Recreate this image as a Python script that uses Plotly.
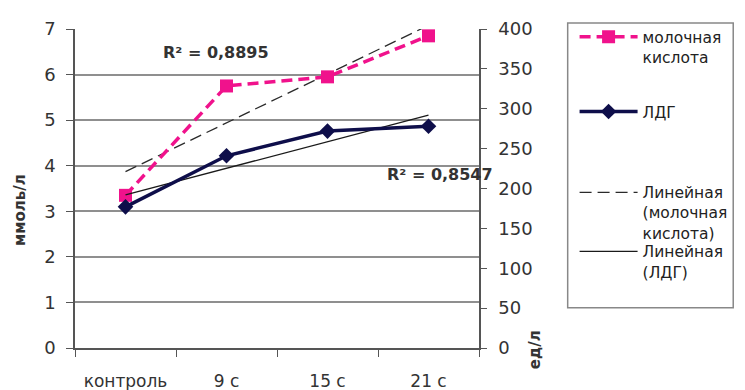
import numpy as np
import plotly.graph_objects as go

categories = ["контроль", "9 с", "15 с", "21 с"]
lactic = [3.35, 5.75, 5.95, 6.85]      # ммоль/л (left axis)
ldh = [177, 241, 272, 278]             # ед/л (right axis)
r2_lactic = "R² = 0,8895"
r2_ldh = "R² = 0,8547"
left_ticks = [0, 1, 2, 3, 4, 5, 6, 7]
right_ticks = [0, 50, 100, 150, 200, 250, 300, 350, 400]

idx = np.arange(len(categories))
k1, b1 = np.polyfit(idx, lactic, 1)
k2, b2 = np.polyfit(idx, ldh, 1)
trend_lactic = list(k1 * idx + b1)
trend_ldh = list(k2 * idx + b2)

FONT = "DejaVu Sans"
PINK = "#F0128C"
NAVY = "#0E0E4A"

# page body has an 8px margin -> figure is drawn 8px right/down; size compensates
OFF = 8
W, H = 745 - OFF, 390 - OFF

fig = go.Figure()
fig.add_trace(go.Scatter(
    x=categories, y=trend_lactic, mode="lines", name="Линейная<br>(молочная<br>кислота)",
    line=dict(color="#2a2a2a", width=1.3, dash="12px,6px"), legend="legend3"))
fig.add_trace(go.Scatter(
    x=categories, y=trend_ldh, mode="lines", name="Линейная<br>(ЛДГ)", yaxis="y2",
    line=dict(color="#1a1a1a", width=1.3), legend="legend4"))
fig.add_trace(go.Scatter(
    x=categories, y=lactic, mode="lines+markers", name="молочная<br>кислота",
    line=dict(color=PINK, width=3.5, dash="11px,6px"),
    marker=dict(symbol="square", size=13, color=PINK), legend="legend"))
fig.add_trace(go.Scatter(
    x=categories, y=ldh, mode="lines+markers", name="ЛДГ", yaxis="y2",
    line=dict(color=NAVY, width=3.5),
    marker=dict(symbol="diamond", size=12, color=NAVY), legend="legend2"))

# conversions from absolute page pixels to paper coords (plot area 75..485 x 24..348)
def px2x(px):
    return (px - 75) / 410.0

def px2y(py):
    return (348 - py) / 324.0

leg_common = dict(bgcolor="rgba(0,0,0,0)", borderwidth=0, font=dict(family=FONT, size=15.5, color="#222"),
                  xanchor="left", yanchor="top", itemwidth=58, valign="top", tracegroupgap=0)

fig.update_layout(
    width=W, height=H,
    margin=dict(l=75 - OFF, r=W - (485 - OFF), t=24 - OFF, b=H - (348 - OFF)),
    paper_bgcolor="white", plot_bgcolor="white",
    font=dict(family=FONT, size=18, color="#333"),
    xaxis=dict(type="category", tickson="boundaries", ticks="outside", ticklen=7, tickwidth=1.3,
               tickcolor="#555", showline=True, linecolor="#555", linewidth=1.5, showgrid=False,
               ticklabelstandoff=17, tickfont=dict(size=17, color="#333"), range=[-0.5, 3.5],
               automargin=False),
    xaxis2=dict(overlaying="x", range=[-0.5, 3.5], tickvals=[-0.5, 0.5, 1.5, 2.5, 3.5],
                ticks="inside", ticklen=6, tickwidth=1.3, tickcolor="#555", showticklabels=False,
                showgrid=False, showline=False, zeroline=False, automargin=False),
    yaxis=dict(range=[0, 7], tickvals=left_ticks, ticks="outside", ticklen=7, tickwidth=1.3, tickcolor="#555",
               showline=True, linecolor="#555", linewidth=1.5, showgrid=True, gridcolor="#8f8f8f", gridwidth=1.6,
               zeroline=False, ticklabelstandoff=7, tickfont=dict(size=18, color="#333"), automargin=False),
    yaxis2=dict(range=[0, 400], tickvals=right_ticks, overlaying="y", side="right", ticks="outside", ticklen=6,
                tickwidth=1.3, tickcolor="#555", showline=True, linecolor="#555", linewidth=1.5,
                showgrid=False, zeroline=False, ticklabelstandoff=8, tickfont=dict(size=18, color="#333"),
                automargin=False),
    yaxis3=dict(range=[0, 400], tickvals=right_ticks, overlaying="y", side="right", ticks="inside", ticklen=6,
                tickwidth=1.3, tickcolor="#555", showticklabels=False, showgrid=False, zeroline=False,
                showline=False, automargin=False),
    legend=dict(x=px2x(582), y=px2y(15), **leg_common),
    legend2=dict(x=px2x(582), y=px2y(91), **leg_common),
    legend3=dict(x=px2x(582), y=px2y(173), **leg_common),
    legend4=dict(x=px2x(582), y=px2y(233), **leg_common),
    showlegend=True,
)

fig.add_shape(type="rect", xref="paper", yref="paper",
              x0=px2x(575), x1=px2x(743), y0=px2y(307), y1=px2y(18),
              line=dict(color="#888", width=1.5), fillcolor="rgba(0,0,0,0)", layer="below")

ann_common = dict(xref="paper", yref="paper", showarrow=False, xanchor="center", yanchor="middle")
fig.add_annotation(text=r2_lactic, x=px2x(218), y=px2y(48),
                   font=dict(family=FONT, size=16, color="#333", weight="bold"), **ann_common)
fig.add_annotation(text=r2_ldh, x=px2x(445), y=px2y(172),
                   font=dict(family=FONT, size=16, color="#333", weight="bold"), **ann_common)
fig.add_annotation(text="ммоль/л", x=px2x(19), y=px2y(208), textangle=-90,
                   font=dict(family=FONT, size=15, color="#333", weight="bold"), **ann_common)
fig.add_annotation(text="ед/л", x=px2x(542), y=px2y(350), textangle=-90,
                   font=dict(family=FONT, size=15, color="#333", weight="bold"), **ann_common)

fig.write_html("out.html")
